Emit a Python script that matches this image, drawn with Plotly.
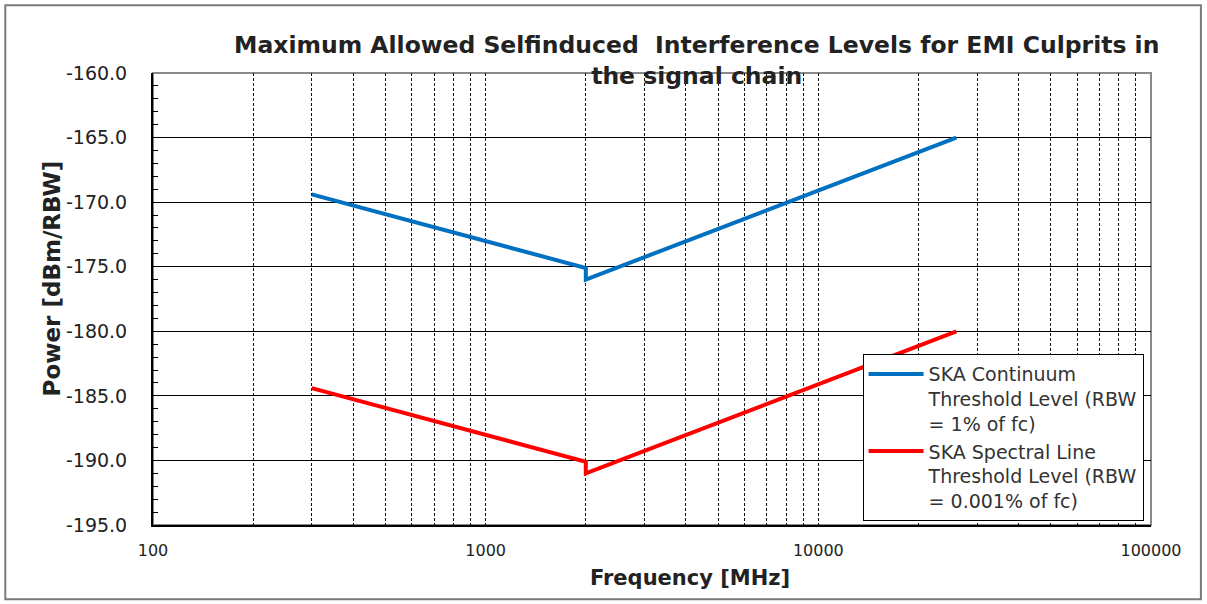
import plotly.graph_objects as go

freq_mhz = [300, 2000, 2000, 26000]
continuum_dbm = [-169.4, -175.1, -176.0, -165.0]
spectral_dbm = [-184.4, -190.1, -191.0, -180.0]

series_names = [
    "SKA Continuum<br>Threshold Level (RBW<br>= 1% of fc)",
    "SKA Spectral Line<br>Threshold Level (RBW<br>= 0.001% of fc)",
]
y_ticks = [-195, -190, -185, -180, -175, -170, -165, -160]
y_labels = ["-195.0", "-190.0", "-185.0", "-180.0", "-175.0", "-170.0", "-165.0", "-160.0"]
x_decades = [100, 1000, 10000, 100000]

x_grid = []
x_text = []
for d in x_decades[:-1]:
    for m in range(1, 10):
        x_grid.append(d * m)
        x_text.append(str(d) if m == 1 else "")
x_grid.append(100000)
x_text.append("100000")

FONT = "DejaVu Sans"

fig = go.Figure()
fig.add_trace(go.Scatter(x=freq_mhz, y=continuum_dbm, mode="lines", name=series_names[0],
                         line=dict(color="#0070C0", width=4)))
fig.add_trace(go.Scatter(x=freq_mhz, y=spectral_dbm, mode="lines", name=series_names[1],
                         line=dict(color="#FF0000", width=4)))

fig.update_layout(
    width=1207, height=604,
    margin=dict(l=153, r=56, t=73, b=79),
    paper_bgcolor="white", plot_bgcolor="white",
    font=dict(family=FONT, color="#222"),
    showlegend=True,
    legend=dict(x=0.711, y=0.378, xanchor="left", yanchor="top",
                bgcolor="white", bordercolor="black", borderwidth=1,
                font=dict(family=FONT, size=19, color="#333"),
                itemwidth=55, valign="top",
                tracegroupgap=0),
)

fig.update_xaxes(
    type="log", range=[2, 5],
    tickvals=x_grid, ticktext=x_text,
    tickfont=dict(family=FONT, size=16, color="#222"),
    ticklabelstandoff=10,
    showgrid=True, gridcolor="#111", gridwidth=1.2, griddash="3px,2px",
    ticks="", showline=True, linecolor="black", linewidth=2,
    zeroline=False,
)
fig.update_yaxes(
    range=[-195, -160], tickvals=y_ticks, ticktext=y_labels,
    tickfont=dict(family=FONT, size=19, color="#222"),
    ticklabelstandoff=20,
    showgrid=True, gridcolor="black", gridwidth=1,
    ticks="inside", ticklen=6, tickcolor="black",
    minor=dict(dtick=1, ticks="inside", ticklen=5, tickcolor="black", showgrid=False),
    showline=True, linecolor="black", linewidth=2,
    zeroline=False,
)

fig.add_shape(type="rect", xref="paper", yref="paper", x0=0, x1=1, y0=0, y1=1,
              line=dict(color="#8a8a8a", width=2), layer="below")
fig.add_shape(type="rect", xref="paper", yref="paper", x0=-0.148, x1=1.050, y0=-0.164, y1=1.150,
              line=dict(color="#7a7a7a", width=2), layer="below")

fig.add_annotation(text="<b>Maximum Allowed Selfinduced  Interference Levels for EMI Culprits in<br>the signal chain</b>",
                   xref="paper", yref="paper", x=0.545, y=1.027, xanchor="center", yanchor="middle",
                   showarrow=False, font=dict(family=FONT, size=23.5, color="#222"))
fig.add_annotation(text="<b>Power [dBm/RBW]</b>", textangle=-90,
                   xref="paper", yref="paper", x=-0.101, y=0.546, xanchor="center", yanchor="middle",
                   showarrow=False, font=dict(family=FONT, size=23, color="#222"))
fig.add_annotation(text="<b>Frequency [MHz]</b>",
                   xref="paper", yref="paper", x=0.538, y=-0.117, xanchor="center", yanchor="middle",
                   showarrow=False, font=dict(family=FONT, size=21, color="#222"))

fig.write_html("out.html", config={"displayModeBar": False},
               post_script="document.body.style.margin='0';")
